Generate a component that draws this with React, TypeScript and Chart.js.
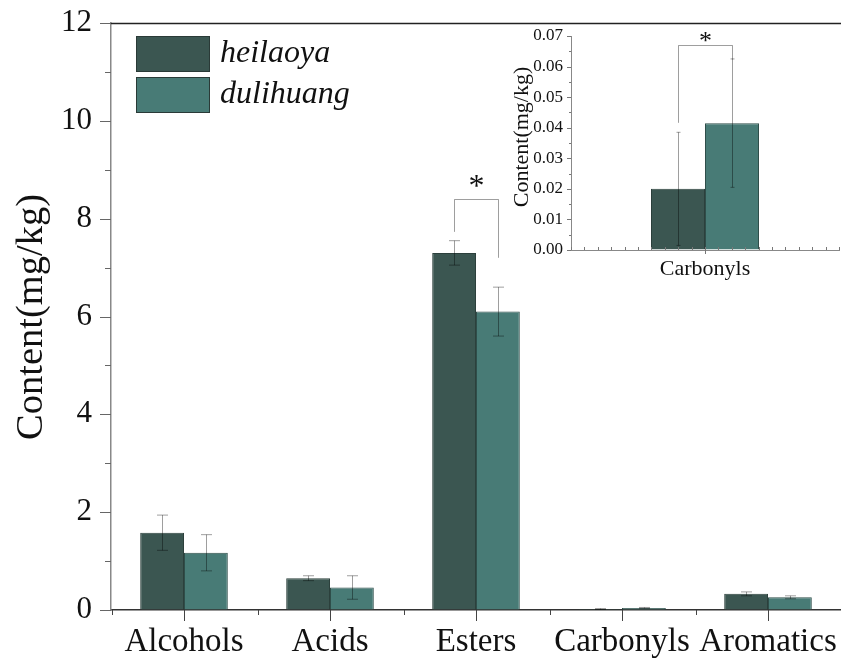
import React, { useEffect, useRef } from 'react';
import { Chart, registerables } from 'chart.js';
Chart.register(...registerables);

const categories = ['Alcohols', 'Acids', 'Esters', 'Carbonyls', 'Aromatics'];
const seriesNames = ['heilaoya', 'dulihuang'];
const heilaoya = [1.58, 0.65, 7.3, 0.02, 0.33];
const heilaoyaErr = [0.36, 0.05, 0.25, 0.01, 0.04];
const dulihuang = [1.17, 0.46, 6.1, 0.042, 0.26];
const dulihuangErr = [0.37, 0.24, 0.5, 0.01, 0.03];

const insetCategories = ['Carbonyls'];
const insetHeilaoya = [0.02];
const insetHeilaoyaErr = [0.0185];
const insetDulihuang = [0.0415];
const insetDulihuangErr = [0.021];

// significance brackets (data units)
const mainBracket = { index: 2, top: 8.4, leftEnd: 7.73, rightEnd: 7.2, starAt: 8.75, label: '*' };
const insetBracket = { index: 0, top: 0.067, leftEnd: 0.0416, rightEnd: 0.0624, starAt: 0.07, label: '*' };

const DARK = '#3b5651';
const TEAL = '#487b76';
const SERIF = '"Liberation Serif", "Times New Roman", serif';
const HIDDEN_TICKS = (len: number) => ({
  display: true,
  drawOnChartArea: false,
  drawTicks: true,
  tickLength: len,
  tickColor: 'rgba(0,0,0,0)',
});

function errorBarPlugin(errs: number[][], halfCap: number) {
  return {
    id: 'errbars',
    afterDatasetsDraw(chart: any) {
      const ctx = chart.ctx;
      const y = chart.scales.y;
      ctx.save();
      ctx.strokeStyle = 'rgba(0,0,0,0.38)';
      ctx.lineWidth = 1;
      chart.data.datasets.forEach((ds: any, di: number) => {
        const meta = chart.getDatasetMeta(di);
        meta.data.forEach((bar: any, i: number) => {
          const v = ds.data[i];
          const e = errs[di][i];
          const x = Math.round(bar.x) + 0.5;
          const yt = y.getPixelForValue(v + e);
          const yb = y.getPixelForValue(v - e);
          ctx.beginPath();
          ctx.moveTo(x, yt);
          ctx.lineTo(x, yb);
          ctx.moveTo(x - halfCap, yt);
          ctx.lineTo(x + halfCap, yt);
          ctx.moveTo(x - halfCap, yb);
          ctx.lineTo(x + halfCap, yb);
          ctx.stroke();
        });
      });
      ctx.restore();
    },
  };
}

function bracketPlugin(b: any, starFont: string) {
  return {
    id: 'bracket',
    afterDatasetsDraw(chart: any) {
      const ctx = chart.ctx;
      const y = chart.scales.y;
      const x1 = Math.round(chart.getDatasetMeta(0).data[b.index].x) + 0.5;
      const x2 = Math.round(chart.getDatasetMeta(1).data[b.index].x) + 0.5;
      const yt = Math.round(y.getPixelForValue(b.top)) + 0.5;
      ctx.save();
      ctx.strokeStyle = 'rgba(0,0,0,0.38)';
      ctx.lineWidth = 1;
      ctx.beginPath();
      ctx.moveTo(x1, y.getPixelForValue(b.leftEnd));
      ctx.lineTo(x1, yt);
      ctx.lineTo(x2, yt);
      ctx.lineTo(x2, y.getPixelForValue(b.rightEnd));
      ctx.stroke();
      ctx.fillStyle = '#111';
      ctx.font = starFont;
      ctx.textAlign = 'center';
      ctx.textBaseline = 'middle';
      ctx.fillText(b.label, (x1 + x2) / 2, y.getPixelForValue(b.starAt) + 6);
      ctx.restore();
    },
  };
}

const mainDecor = {
  id: 'mainDecor',
  afterDraw(chart: any) {
    const ctx = chart.ctx;
    const ca = chart.chartArea;
    const y = chart.scales.y;
    const x = chart.scales.x;
    ctx.save();
    // top border
    ctx.strokeStyle = '#222';
    ctx.lineWidth = 1.5;
    ctx.beginPath();
    ctx.moveTo(ca.left, ca.top + 0.5);
    ctx.lineTo(841, ca.top + 0.5);
    ctx.stroke();
    // y ticks
    ctx.strokeStyle = '#666';
    ctx.lineWidth = 1;
    for (let v = 0; v <= 12; v++) {
      const py = Math.round(y.getPixelForValue(v)) + 0.5;
      const len = v % 2 === 0 ? 11 : 6;
      ctx.beginPath();
      ctx.moveTo(ca.left - len, py);
      ctx.lineTo(ca.left, py);
      ctx.stroke();
    }
    // x ticks
    ctx.strokeStyle = '#444';
    const n = categories.length;
    const w = (ca.right - ca.left) / n;
    for (let i = 0; i < n; i++) {
      const cx = Math.round(x.getPixelForValue(i)) + 0.5;
      ctx.beginPath();
      ctx.moveTo(cx, ca.bottom);
      ctx.lineTo(cx, ca.bottom + 11);
      ctx.stroke();
      const bx = Math.round(cx - w / 2) + 0.5;
      ctx.beginPath();
      ctx.moveTo(bx, ca.bottom);
      ctx.lineTo(bx, ca.bottom + 5);
      ctx.stroke();
    }
    // y title
    ctx.fillStyle = '#111';
    ctx.font = `38.5px ${SERIF}`;
    ctx.textAlign = 'center';
    ctx.textBaseline = 'middle';
    ctx.translate(32, 317);
    ctx.rotate(-Math.PI / 2);
    ctx.fillText('Content(mg/kg)', 0, 0);
    ctx.restore();
    // legend
    ctx.save();
    const colors = [DARK, TEAL];
    seriesNames.forEach((name, i) => {
      const top = 36 + i * 41;
      ctx.fillStyle = colors[i];
      ctx.fillRect(136, top, 74, 36);
      ctx.strokeStyle = '#2a3a37';
      ctx.lineWidth = 1;
      ctx.strokeRect(136.5, top + 0.5, 73, 35);
      ctx.fillStyle = '#111';
      ctx.font = `italic 32px ${SERIF}`;
      ctx.textAlign = 'left';
      ctx.textBaseline = 'middle';
      ctx.fillText(name, 220, top + 18);
    });
    ctx.restore();
  },
};

const insetDecor = {
  id: 'insetDecor',
  afterDraw(chart: any) {
    const ctx = chart.ctx;
    const ca = chart.chartArea;
    const y = chart.scales.y;
    const x = chart.scales.x;
    ctx.save();
    ctx.strokeStyle = '#777';
    ctx.lineWidth = 1;
    for (let k = 0; k <= 14; k++) {
      const v = k * 0.005;
      const py = Math.round(y.getPixelForValue(v)) + 0.5;
      const len = k % 2 === 0 ? 4 : 2;
      ctx.beginPath();
      ctx.moveTo(ca.left - len, py);
      ctx.lineTo(ca.left, py);
      ctx.stroke();
    }
    const w = ca.right - ca.left;
    for (let k = 0; k <= 20; k++) {
      const px = Math.round(ca.left + (k * w) / 20) + 0.5;
      ctx.beginPath();
      ctx.moveTo(px, ca.bottom - 3);
      ctx.lineTo(px, ca.bottom);
      ctx.stroke();
    }
    const cx = Math.round(x.getPixelForValue(0)) + 0.5;
    ctx.beginPath();
    ctx.moveTo(cx, ca.bottom);
    ctx.lineTo(cx, ca.bottom + 4);
    ctx.stroke();
    ctx.fillStyle = '#111';
    ctx.font = `22px ${SERIF}`;
    ctx.textAlign = 'center';
    ctx.textBaseline = 'middle';
    ctx.translate(22, 117);
    ctx.rotate(-Math.PI / 2);
    ctx.fillText('Content(mg/kg)', 0, 0);
    ctx.restore();
  },
};

export default function App() {
  const mainRef = useRef<HTMLCanvasElement>(null);
  const insetRef = useRef<HTMLCanvasElement>(null);

  useEffect(() => {
    const main = new Chart(mainRef.current!, {
      type: 'bar',
      data: {
        labels: categories,
        datasets: [
          { label: seriesNames[0], data: heilaoya, backgroundColor: DARK, borderColor: '#2c403c', borderWidth: 1 },
          { label: seriesNames[1], data: dulihuang, backgroundColor: TEAL, borderColor: '#2f4e4a', borderWidth: 1 },
        ],
      },
      options: {
        responsive: false,
        animation: false,
        layout: { padding: { top: 23, right: 0, left: 0, bottom: 0 } },
        plugins: { legend: { display: false }, tooltip: { enabled: false } },
        datasets: { bar: { categoryPercentage: 0.6, barPercentage: 1 } },
        scales: {
          x: {
            grid: HIDDEN_TICKS(13),
            border: { display: true, color: '#333', width: 1.5 },
            ticks: { font: { family: SERIF, size: 33 }, color: '#111', padding: 0, maxRotation: 0, autoSkip: false },
            afterFit: (s: any) => { s.height = 51; },
          },
          y: {
            min: 0,
            max: 12,
            grid: HIDDEN_TICKS(19),
            border: { display: true, color: '#888', width: 1.5 },
            ticks: { stepSize: 2, font: { family: SERIF, size: 31 }, color: '#111', padding: 0 },
            afterFit: (s: any) => { s.width = 111; },
          },
        },
      } as any,
      plugins: [errorBarPlugin([heilaoyaErr, dulihuangErr], 5.5), bracketPlugin(mainBracket, `32px ${SERIF}`), mainDecor],
    });

    const inset = new Chart(insetRef.current!, {
      type: 'bar',
      data: {
        labels: insetCategories,
        datasets: [
          { label: seriesNames[0], data: insetHeilaoya, backgroundColor: DARK, borderColor: '#2c403c', borderWidth: 1 },
          { label: seriesNames[1], data: insetDulihuang, backgroundColor: TEAL, borderColor: '#2f4e4a', borderWidth: 1 },
        ],
      },
      options: {
        responsive: false,
        animation: false,
        layout: { padding: { top: 16, right: 2, left: 0, bottom: 0 } },
        plugins: { legend: { display: false }, tooltip: { enabled: false } },
        datasets: { bar: { categoryPercentage: 0.403, barPercentage: 1 } },
        scales: {
          x: {
            grid: HIDDEN_TICKS(6),
            border: { display: true, color: '#888', width: 1 },
            ticks: { font: { family: SERIF, size: 22 }, color: '#111', padding: 0, maxRotation: 0 },
            afterFit: (s: any) => { s.height = 45; },
          },
          y: {
            min: 0,
            max: 0.07,
            grid: HIDDEN_TICKS(8),
            border: { display: true, color: '#888', width: 1 },
            ticks: {
              stepSize: 0.01,
              font: { family: SERIF, size: 17 },
              color: '#111',
              padding: 0,
              callback: (v: any) => Number(v).toFixed(2),
            },
            afterFit: (s: any) => { s.width = 71; },
          },
        },
      } as any,
      plugins: [errorBarPlugin([insetHeilaoyaErr, insetDulihuangErr], 2), bracketPlugin(insetBracket, `26px ${SERIF}`), insetDecor],
    });

    return () => {
      main.destroy();
      inset.destroy();
    };
  }, []);

  return (
    <div style={{ position: 'fixed', left: 0, top: 0, width: 841, height: 661, background: '#fff' }}>
      <canvas ref={mainRef} width={841} height={661} style={{ position: 'absolute', left: 0, top: 0 }} />
      <canvas ref={insetRef} width={341} height={275} style={{ position: 'absolute', left: 500, top: 20 }} />
    </div>
  );
}
